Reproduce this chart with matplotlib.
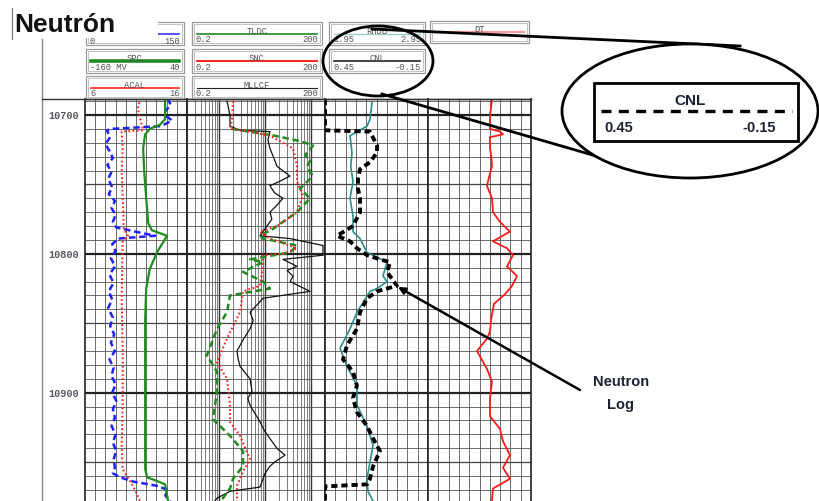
import matplotlib
matplotlib.use('Agg')
import matplotlib.pyplot as plt
from matplotlib.patches import Ellipse, Rectangle
import numpy as np

# ---------------- DATA ----------------
depth_top, depth_bottom = 10688.5, 10978.0
depth_labels = [10700, 10800, 10900]

# Track 1
gr_depth = [10688, 10693, 10697, 10701, 10704, 10708, 10710, 10711, 10716, 10721, 10726, 10731, 10736, 10741,
            10746, 10752, 10757, 10762, 10767, 10772, 10777, 10781, 10784, 10787, 10789, 10793, 10798, 10803,
            10809, 10815, 10821, 10827, 10833, 10839, 10846, 10852, 10858, 10864, 10870, 10876, 10882, 10888,
            10894, 10900, 10906, 10912, 10918, 10924, 10930, 10936, 10942, 10948, 10954, 10958, 10961, 10964,
            10967, 10970, 10974, 10978]
gr = [122, 126, 118, 120, 128, 112, 40, 32, 37, 30, 36, 41, 33, 39,
      34, 40, 35, 44, 39, 45, 41, 46, 74, 103, 49, 40, 45, 38,
      44, 36, 42, 35, 40, 34, 41, 37, 43, 38, 44, 36, 42, 39,
      45, 40, 46, 41, 44, 39, 45, 41, 46, 42, 44, 41, 52, 71,
      105, 122, 118, 126]

acal_depth = [10688, 10695, 10700, 10705, 10711, 10712, 10724, 10740, 10760, 10782, 10787, 10791, 10832,
              10870, 10904, 10940, 10955, 10961, 10966, 10970, 10978]
acal = [11.4, 11.2, 11.3, 11.5, 11.7, 9.6, 9.7, 9.6, 9.7, 9.8, 10.2, 9.7, 9.6,
        9.7, 9.7, 9.6, 9.7, 10.2, 10.6, 10.9, 11.4]

spc_depth = [10688, 10703, 10707, 10710, 10714, 10724, 10740, 10760, 10778, 10783, 10787, 10793, 10799,
             10811, 10825, 10847, 10904, 10955, 10961, 10963, 10966, 10978]
spc = [-3, -3, -13, -33, -42, -46, -44, -40, -36, -29, 1, -9, -19,
       -33, -40, -42, -42, -42, -38, -23, -3, 3]

# Track 2 (log)
mllcf_depth = [10690, 10695, 10701, 10708, 10711, 10712, 10718, 10724, 10730, 10737, 10744, 10748, 10751,
               10756, 10760, 10765, 10770, 10775, 10780, 10787, 10789, 10794, 10801, 10804, 10809, 10812,
               10816, 10820, 10827, 10832, 10836, 10842, 10848, 10854, 10862, 10870, 10876, 10881, 10890,
               10899, 10904, 10909, 10915, 10921, 10927, 10933, 10940, 10945, 10950, 10953, 10958, 10962,
               10968, 10971, 10976, 10978]
mllcf = [1.48, 1.6, 1.72, 1.72, 2.84, 12.7, 11.5, 12.7, 15, 18.1, 34.7, 20, 12.7,
         16, 24.4, 18, 12.7, 14, 11.0, 7.73, 34.7, 181, 181, 24.4, 49.2, 30,
         40.3, 35, 94.4, 9.0, 7.0, 4.69, 5.5, 4.69, 3.3, 2.44, 2.6, 2.84, 4.69,
         5.18, 4.2, 4.69, 6.0, 7.73, 9.5, 12.7, 18, 27.0, 16, 12.7, 10, 9.0,
         7.73, 1.72, 0.90, 0.8]

tldc_depth = [10710, 10715, 10719, 10722, 10729, 10733, 10737, 10743, 10746, 10753, 10760, 10770, 10776,
              10782, 10787, 10789, 10794, 10799, 10804, 10806, 10813, 10820, 10825, 10830, 10842, 10854,
              10873, 10885, 10899, 10919, 10931, 10942, 10953, 10962, 10969, 10976, 10978]
tldc = [1.9, 16.4, 60, 110, 73.5, 95, 81.3, 104, 94.4, 57.3, 94.4, 49.2, 27.0,
        14.8, 7.73, 8.98, 49.2, 34.7, 4.69, 8.98, 3.30, 8.98, 12.7, 1.72, 1.48, 0.90,
        0.54, 0.90, 0.90, 0.73, 1.72, 3.30, 3.30, 2.0, 1.72, 1.21, 1.1]

snc_depth = [10690, 10703, 10710, 10712, 10715, 10724, 10737, 10748, 10758, 10770, 10780, 10784, 10789,
             10796, 10800, 10801, 10809, 10823, 10827, 10842, 10861, 10878, 10890, 10909, 10921, 10931,
             10948, 10957, 10967, 10978]
snc = [2.0, 1.90, 1.72, 4.69, 12.7, 40.3, 49.2, 49.2, 66.5, 49.2, 18.1, 7.73, 12.7,
       49.2, 24.4, 8.98, 8.98, 7.73, 3.30, 2.84, 1.48, 0.90, 1.48, 1.72, 1.72, 2.84,
       4.69, 3.30, 2.44, 2.44]

# Track 3
cnl_depth = [10688.5, 10711, 10712, 10722, 10727, 10734, 10739, 10746, 10753, 10760, 10770, 10780, 10787,
             10791, 10796, 10801, 10804, 10806, 10813, 10823, 10827, 10832, 10842, 10854, 10866, 10876,
             10885, 10895, 10904, 10914, 10924, 10933, 10942, 10953, 10962, 10966, 10967.5, 10978]
cnl = [0.45, 0.45, 0.188, 0.147, 0.147, 0.188, 0.246, 0.258, 0.258, 0.246, 0.246, 0.287, 0.380,
       0.304, 0.264, 0.205, 0.130, 0.071, 0.089, 0.031, 0.147, 0.205, 0.246, 0.264, 0.322, 0.345,
       0.287, 0.264, 0.287, 0.264, 0.205, 0.170, 0.130, 0.170, 0.188, 0.205, 0.45, 0.45]

rhob_depth = [10691, 10703, 10708, 10715, 10727, 10737, 10748, 10760, 10773, 10784, 10789, 10799, 10806,
              10816, 10820, 10825, 10827, 10842, 10854, 10868, 10881, 10895, 10909, 10924, 10938, 10950,
              10962, 10971, 10978]
rhob = [2.406, 2.387, 2.358, 2.193, 2.212, 2.20, 2.222, 2.193, 2.222, 2.222, 2.290, 2.358, 2.552,
        2.513, 2.552, 2.455, 2.387, 2.261, 2.193, 2.096, 2.164, 2.261, 2.261, 2.358, 2.416, 2.387,
        2.358, 2.367, 2.416]

# Track 4
dt_depth = [10688.5, 10701, 10710, 10712, 10714, 10716, 10724, 10730, 10737, 10744, 10751, 10760, 10770,
            10777, 10782, 10784, 10791, 10796, 10801, 10809, 10816, 10823, 10829, 10836, 10846, 10856,
            10861, 10870, 10883, 10892, 10904, 10917, 10926, 10935, 10945, 10954, 10962, 10969, 10978]
dt = [77.9, 79.8, 79.8, 70.1, 67.2, 79.8, 79.8, 78.5, 77.9, 80.5, 82.7, 77.9, 76.9,
      70.1, 63.3, 60.4, 76.9, 63.3, 57.5, 63.3, 53.6, 58.4, 65.2, 75.9, 78.5, 79.8,
      82.7, 92.4, 82.7, 77.9, 79.8, 79.8, 70.1, 67.2, 60.4, 67.2, 60.4, 76.9, 77.9]

# ---------------- FIGURE ----------------
W, H = 819, 502
fig = plt.figure(figsize=(W / 100, H / 100), dpi=100)


def px_axes(x0, y0, x1, y1, **kw):
    return fig.add_axes([x0 / W, 1 - y1 / H, (x1 - x0) / W, (y1 - y0) / H], **kw)


LOG_TOP, LOG_BOT = 100, 502
tracks = {
    't1': (85, 187),
    't2': (187, 325),
    't3': (325, 428),
    't4': (428, 531),
}

grid_depths = np.arange(10690, 10980, 10)


def grid_track(x0, x1, log=False):
    ax = px_axes(x0, LOG_TOP, x1, LOG_BOT)
    ax.set_ylim(depth_bottom, depth_top)
    if log:
        ax.set_xscale('log')
        ax.set_xlim(0.2, 200)
        for dec in [0.1, 1, 10, 100]:
            for m in range(1, 10):
                v = dec * m
                if 0.2 <= v <= 200:
                    major = (m == 1)
                    ax.axvline(v, color='#333333' if major else '#808080', lw=1.0 if major else 0.75, zorder=1)
    else:
        ax.set_xlim(0, 10)
        for v in range(1, 10):
            ax.axvline(v, color='#555555', lw=0.6, zorder=1)
    for d in grid_depths:
        if d % 100 == 0:
            ax.axhline(d, color='#222222', lw=1.6, zorder=1)
        elif d % 50 == 0:
            ax.axhline(d, color='#444444', lw=0.9, zorder=1)
        else:
            ax.axhline(d, color='#555555', lw=0.6, zorder=1)
    ax.set_xticks([]); ax.set_yticks([])
    ax.minorticks_off()
    for s in ax.spines.values():
        s.set_color('#222222'); s.set_linewidth(1.2)
    ax.spines['top'].set_linewidth(1.0)
    ax.spines['bottom'].set_visible(False)
    return ax


for key, (x0, x1) in tracks.items():
    grid_track(x0, x1, log=(key == 't2'))


def curve_axes(track, lo, hi, log=False):
    x0, x1 = tracks[track]
    ax = px_axes(x0, LOG_TOP, x1, LOG_BOT)
    ax.patch.set_alpha(0)
    if log:
        ax.set_xscale('log')
    ax.set_xlim(lo, hi)
    ax.set_ylim(depth_bottom, depth_top)
    ax.axis('off')
    return ax


a = curve_axes('t1', 0, 150)
a.plot(gr, gr_depth, color='#1f1fff', lw=1.8, ls=(0, (2.6, 1.5)))
a = curve_axes('t1', 6, 16)
a.plot(acal, acal_depth, color='#ff2020', lw=1.5, ls=(0, (0.8, 1.2)))
a = curve_axes('t1', -160, 40)
a.plot(spc, spc_depth, color='#1e8c1e', lw=1.6)

a = curve_axes('t2', 0.2, 200, log=True)
a.plot(mllcf, mllcf_depth, color='#111111', lw=0.9)
a = curve_axes('t2', 0.2, 200, log=True)
a.plot(tldc, tldc_depth, color='#1e8c1e', lw=1.8, ls=(0, (2.6, 1.5)))
a = curve_axes('t2', 0.2, 200, log=True)
a.plot(snc, snc_depth, color='#ff2020', lw=1.5, ls=(0, (0.8, 1.2)))

a = curve_axes('t3', 1.95, 2.95)
a.plot(rhob, rhob_depth, color='#2a8c8c', lw=1.2)
a = curve_axes('t3', 0.45, -0.15)
a.plot(cnl, cnl_depth, color='#000000', lw=2.8, ls=(0, (1.6, 1.0)))

a = curve_axes('t4', 140, 40)
a.plot(dt, dt_depth, color='#ff1a1a', lw=1.3)

# depth labels
dax = px_axes(42, LOG_TOP, 85, LOG_BOT)
dax.patch.set_alpha(0)
dax.set_xlim(0, 1); dax.set_ylim(depth_bottom, depth_top)
dax.axis('off')
for d in depth_labels:
    dax.text(0.5, d, str(d), ha='center', va='center', fontsize=7.3,
             family='Liberation Mono', color='#555560', fontweight='bold')

# ---------------- OVERLAY (headers + annotations) ----------------
ov = fig.add_axes([0, 0, 1, 1], zorder=10)
ov.set_xlim(0, W); ov.set_ylim(H, 0)
ov.axis('off'); ov.patch.set_alpha(0)

ov.plot([42, 42], [40, 502], color='#888888', lw=1.0)
ov.plot([42, 531], [100, 100], color='#333333', lw=1.0)

hfont = dict(family='Liberation Mono', fontsize=6.3, color='#555555')


def hbox(x0, y0, x1, y1, name, color, lw, left, right, ls='-', dy=1.5):
    ov.add_patch(Rectangle((x0, y0), x1 - x0, y1 - y0, fill=False, ec='#9a9a9a', lw=0.9))
    ov.add_patch(Rectangle((x0 + 2, y0 + 2), x1 - x0 - 4, y1 - y0 - 4, fill=False, ec='#b8b8b8', lw=0.6))
    ym = y0 + (y1 - y0) * 0.52
    ov.plot([x0 + 5, x1 - 5], [ym, ym], color=color, lw=lw, ls=ls)
    if name:
        ov.text((x0 + x1) / 2, ym + 1, name, ha='center', va='bottom', **hfont)
    if left:
        ov.text(x0 + 4, y1 - dy, left, ha='left', va='bottom', **hfont)
    if right:
        ov.text(x1 - 4, y1 - dy, right, ha='right', va='bottom', **hfont)


hbox(86, 23, 184, 46, '', '#3a3aff', 1.2, '0', '150', dy=0.0)
hbox(192, 23, 322, 46, 'TLDC', '#1e8c1e', 1.2, '0.2', '200')
hbox(329, 23, 425, 46, 'RHOB', '#9fcaca', 1.0, '1.95', '2.95')
hbox(430, 22, 529, 44, 'DT', '#ff9a9a', 1.6, '', '')
hbox(86, 50, 184, 74, 'SPC', '#1e8c1e', 2.6, '-160 MV', '40')
hbox(192, 50, 322, 74, 'SNC', '#ff2020', 1.4, '0.2', '200')
hbox(329, 50, 425, 74, 'CNL', '#222222', 1.2, '0.45', '-0.15')
hbox(86, 77, 184, 100, 'ACAL', '#ff2020', 1.2, '6', '16')
hbox(192, 77, 322, 100, 'MLLCF', '#222222', 0.8, '0.2', '200')

# white area behind title
ov.add_patch(Rectangle((8, 4), 150, 35, fc='white', ec='none', zorder=5))
ov.plot([12, 12], [9, 40], color='#888888', lw=1.0, zorder=6)
ov.text(14, 32, 'Neutrón', fontsize=19, fontweight='bold', family='Liberation Sans',
        ha='left', va='baseline', color='#111111', zorder=6)

# small ellipse and leader lines
ov.add_patch(Ellipse((378, 62), 110, 70, fill=False, ec='black', lw=2.0, zorder=7))
ov.plot([372, 740], [30, 47], color='black', lw=2.0, zorder=7)
ov.plot([382, 596], [95, 157], color='black', lw=2.0, zorder=7)
ov.add_patch(Ellipse((690, 112), 256, 134, fc='white', ec='black', lw=2.0, zorder=8))

# inset box
ov.add_patch(Rectangle((594, 84), 204, 58, fill=False, ec='black', lw=2.0, zorder=9))
ov.text(690, 101, 'CNL', ha='center', va='center', fontsize=11, fontweight='bold',
        family='Liberation Sans', color='#1c2233', zorder=9)
ov.plot([601, 792], [112, 112], color='black', lw=2.4, ls=(0, (3.0, 2.2)), zorder=9)
ov.text(604, 128, '0.45', ha='left', va='center', fontsize=10.5, fontweight='bold',
        family='Liberation Sans', color='#1c2233', zorder=9)
ov.text(776, 128, '-0.15', ha='right', va='center', fontsize=10.5, fontweight='bold',
        family='Liberation Sans', color='#1c2233', zorder=9)

# arrow + label
ov.annotate('', xy=(398, 288), xytext=(580, 391),
            arrowprops=dict(arrowstyle='-|>', lw=1.8, color='black', mutation_scale=10,
                            shrinkA=0, shrinkB=0), zorder=9)
ov.text(621, 382, 'Neutron', ha='center', va='center', fontsize=10.5, fontweight='bold',
        family='Liberation Sans', color='#1c2233')
ov.text(621, 405, 'Log', ha='center', va='center', fontsize=10.5, fontweight='bold',
        family='Liberation Sans', color='#1c2233')

fig.savefig('out.png', dpi=100)
